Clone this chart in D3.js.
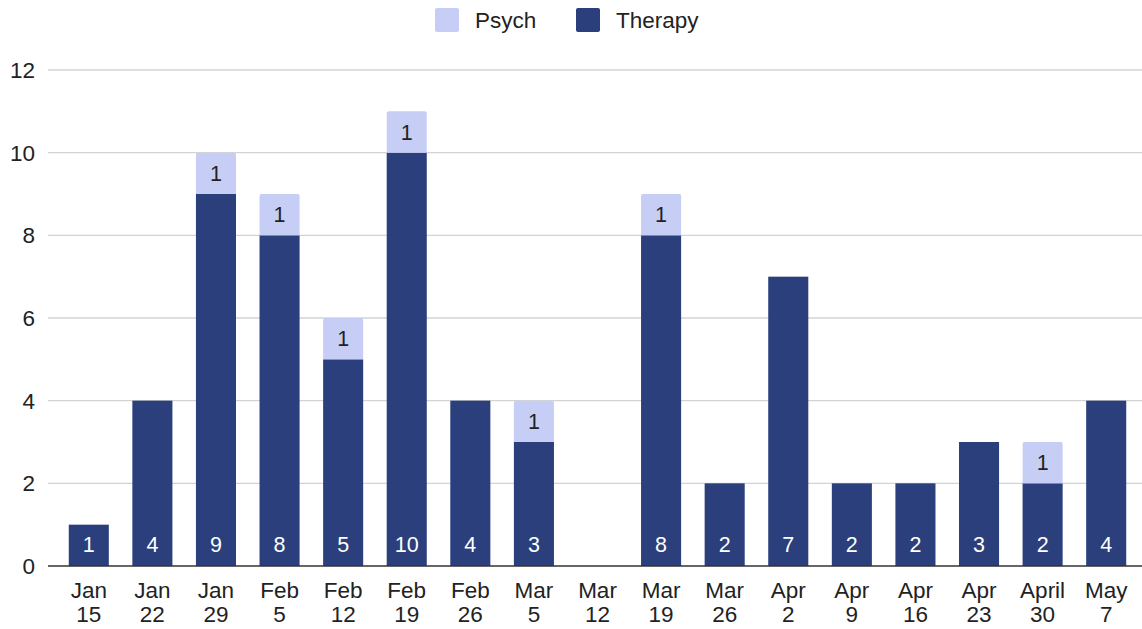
<!DOCTYPE html>
<html><head><meta charset="utf-8">
<script src="https://cdn.jsdelivr.net/npm/d3@7"></script>
<style>body{margin:0;background:#fff;} text{font-family:"Liberation Sans",Arial,sans-serif;}</style>
</head><body><svg id="c" width="1142" height="629"></svg>
<script>
const categories = [["Jan","15"],["Jan","22"],["Jan","29"],["Feb","5"],["Feb","12"],["Feb","19"],["Feb","26"],["Mar","5"],["Mar","12"],["Mar","19"],["Mar","26"],["Apr","2"],["Apr","9"],["Apr","16"],["Apr","23"],["April","30"],["May","7"]];
const therapy = [1,4,9,8,5,10,4,3,0,8,2,7,2,2,3,2,4];
const psych   = [0,0,1,1,1,1,0,1,0,1,0,0,0,0,0,1,0];
const yTicks = [0,2,4,6,8,10,12];
const colors = {Therapy:"#2a3f7b", Psych:"#c6cef6"};

const svg = d3.select("#c");
const keys = categories.map((c,i)=>i);
const x = d3.scaleBand().domain(keys).range([57,1138]).paddingInner(0.37).paddingOuter(0.185);
const y = d3.scaleLinear().domain([0,12]).range([566,70]);
const FS = 22.5;

svg.append("g").selectAll("line").data(yTicks.filter(d=>d>0)).join("line")
  .attr("x1",48).attr("x2",1142).attr("y1",d=>y(d)).attr("y2",d=>y(d))
  .attr("stroke","#d3d3d3").attr("stroke-width",1.3);
svg.append("g").selectAll("text").data(yTicks).join("text")
  .attr("x",35).attr("y",d=>y(d)).attr("dy","0.36em").attr("text-anchor","end")
  .attr("font-size",FS).attr("fill","#222").text(d=>d);

const g = svg.append("g");
keys.forEach(i=>{
  const bx = x(i), bw = x.bandwidth();
  if (therapy[i]>0) {
    g.append("rect").attr("x",bx).attr("width",bw).attr("y",y(therapy[i])).attr("height",y(0)-y(therapy[i])).attr("fill",colors.Therapy);
    g.append("text").attr("x",bx+bw/2).attr("y",y(0)-22).attr("dy","0.36em").attr("text-anchor","middle")
      .attr("font-size",21.5).attr("fill","#fff").text(therapy[i]);
  }
  if (psych[i]>0) {
    const top = y(therapy[i]+psych[i]), bot = y(therapy[i]);
    g.append("path").attr("d",`M${bx},${bot}V${top+2}Q${bx},${top} ${bx+2},${top}H${bx+bw-2}Q${bx+bw},${top} ${bx+bw},${top+2}V${bot}Z`).attr("fill",colors.Psych);
    g.append("text").attr("x",bx+bw/2).attr("y",(top+bot)/2).attr("dy","0.36em").attr("text-anchor","middle")
      .attr("font-size",21.5).attr("fill","#222").text(psych[i]);
  }
});

svg.append("line").attr("x1",48).attr("x2",1142).attr("y1",y(0)).attr("y2",y(0)).attr("stroke","#333").attr("stroke-width",1.3);

const xl = svg.append("g").selectAll("text").data(keys).join("text")
  .attr("text-anchor","middle").attr("font-size",FS).attr("fill","#222");
xl.append("tspan").attr("x",i=>x(i)+x.bandwidth()/2).attr("y",598).text(i=>categories[i][0]);
xl.append("tspan").attr("x",i=>x(i)+x.bandwidth()/2).attr("y",622).text(i=>categories[i][1]);

const leg = [{n:"Psych",x:435},{n:"Therapy",x:576}];
leg.forEach(l=>{
  svg.append("rect").attr("x",l.x).attr("y",8).attr("width",24).attr("height",24).attr("rx",2).attr("fill",colors[l.n]);
  svg.append("text").attr("x",l.x+40).attr("y",20).attr("dy","0.36em").attr("font-size",FS).attr("fill","#222").text(l.n);
});
</script></body></html>
